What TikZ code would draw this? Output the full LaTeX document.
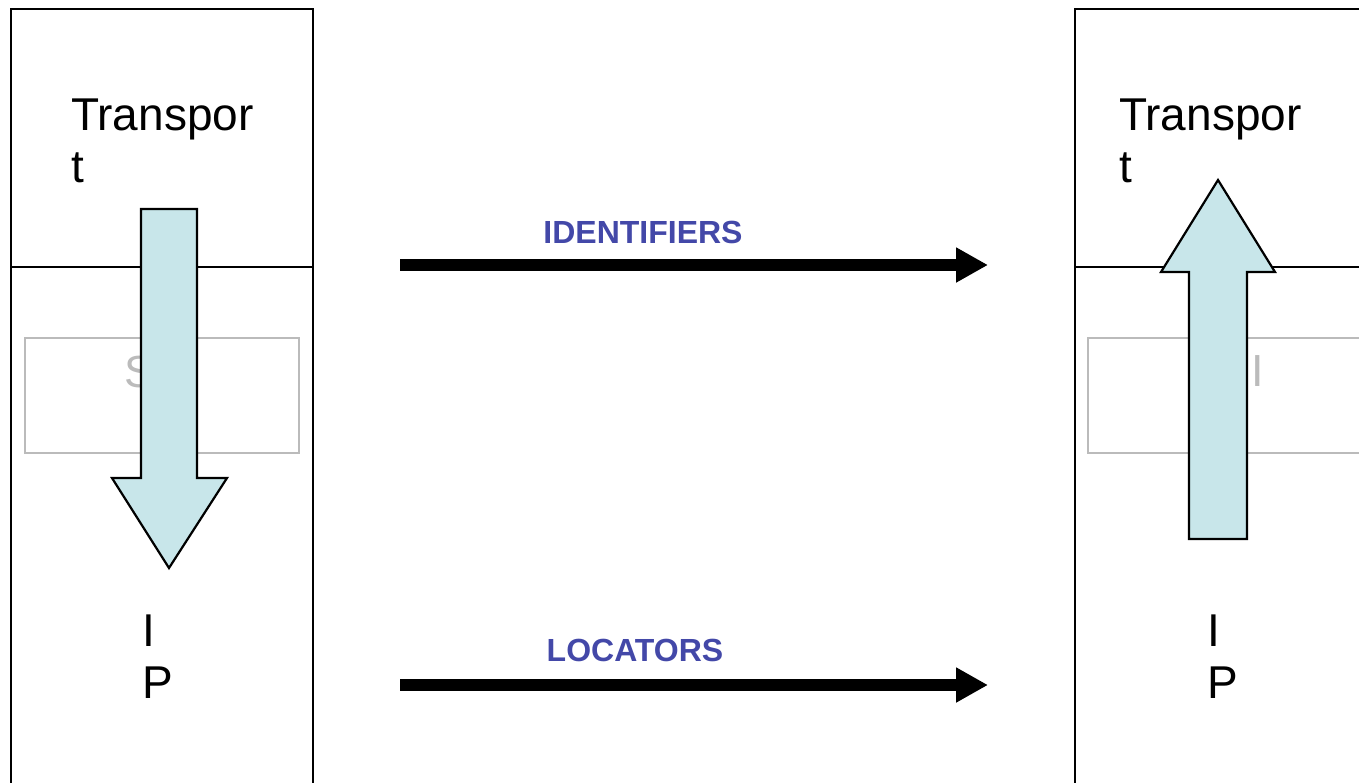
\documentclass[tikz,border=0pt]{standalone}
\usepackage{fontspec}
\setmainfont{Liberation Sans}
\usetikzlibrary{calc, positioning, arrows.meta}
\definecolor{flowfill}{HTML}{C8E6EA}
\definecolor{labelblue}{HTML}{4348A8}
\definecolor{shimgray}{HTML}{BBBBBB}

\begin{document}
\begin{tikzpicture}[x=1pt, y=-1pt,
    layerbox/.style={draw=black, line width=2pt},
    shimbox/.style={draw=shimgray, line width=1.5pt},
    fatarrow/.style={draw=black, line width=2.2pt, fill=flowfill, line join=miter},
    wirearrow/.style={line width=12pt, -{Triangle[length=32pt, width=33pt]}},
    layertext/.style={inner sep=0pt, align=left, font=\fontsize{46}{52}\selectfont},
    wiretext/.style={inner sep=0pt, text=labelblue, font=\fontsize{32}{36}\selectfont\bfseries}]
    \useasboundingbox (0,0) rectangle (1359,782);

    % Host stacks (left and right)
    \draw[layerbox] (11,820) -- (11,9) -- (313,9) -- (313,820);
    \draw[layerbox] (11,267) -- (313,267);
    \draw[layerbox] (1075,820) -- (1075,9) -- (1400,9);
    \draw[layerbox] (1075,267) -- (1400,267);

    % Shim layer boxes (mostly hidden)
    \draw[shimbox] (25,338) rectangle (299,453);
    \draw[shimbox] (1400,338) -- (1088,338) -- (1088,453) -- (1400,453);
    \node[inner sep=0pt, anchor=base west, text=shimgray, font=\fontsize{45}{50}\selectfont] (lshim) at (124,387) {S};
    \node[inner sep=0pt, anchor=base west, text=shimgray, font=\fontsize{45}{50}\selectfont] (rshim) at (1251,386) {I};

    % Fat arrows: down the left stack, up the right stack
    \draw[fatarrow] (141,209) -- (197,209) -- (197,478) -- (227,478) -- (169,568)
        -- (112,478) -- (141,478) -- cycle;
    \draw[fatarrow] (1189,539) -- (1247,539) -- (1247,272) -- (1275,272) -- (1218,180)
        -- (1161,272) -- (1189,272) -- cycle;

    % Layer labels (base = last line)
    \node[layertext, anchor=base west] (ltrans) at (71,182) {Transpor\\t};
    \node[layertext, anchor=base west] (rtrans) at (1119,182) {Transpor\\t};
    \node[layertext, anchor=base west] (lip) at (142,698) {I\\P};
    \node[layertext, anchor=base west] (rip) at (1207,698) {I\\P};

    % Identifiers and locators between the hosts
    \coordinate (idstart) at (400,265);
    \coordinate (idend) at (988,265);
    \coordinate (locstart) at (400,685);
    \coordinate (locend) at (988,685);
    \draw[wirearrow] (idstart) -- (idend);
    \draw[wirearrow] (locstart) -- (locend);
    \node[wiretext, anchor=base] (idlabel) at (643,243) {IDENTIFIERS};
    \node[wiretext, anchor=base] (loclabel) at (635,661) {LOCATORS};
\end{tikzpicture}
\end{document}
